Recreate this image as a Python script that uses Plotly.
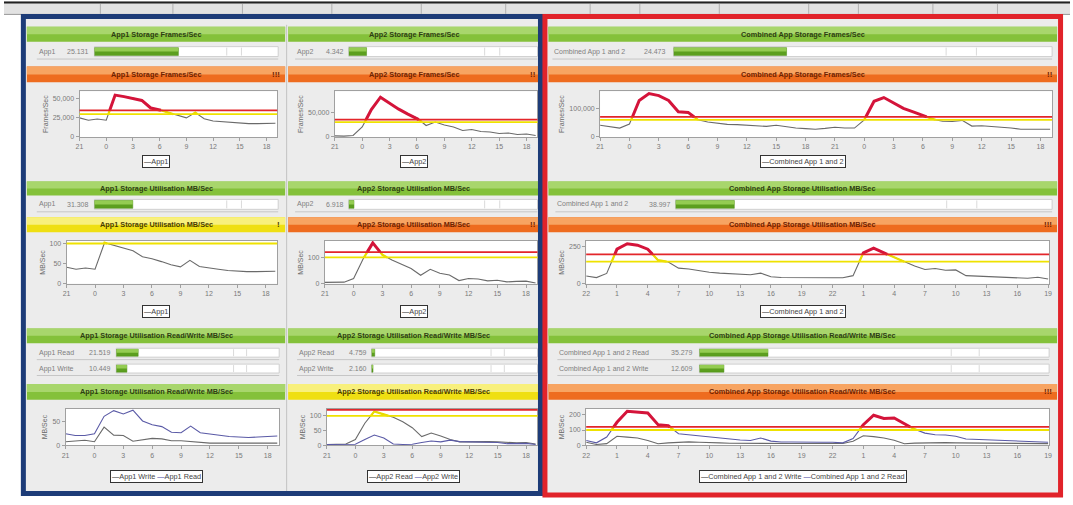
import plotly.graph_objects as go

W, H = 1073, 505
FONT = "Liberation Sans, Arial, sans-serif"

# ---------------- data ----------------
hours_left = list(range(-3, 20))          # 21:00 previous day .. 19:00
hours_comb_frames = list(range(-3, 44))   # two days, starting 21:00
hours_comb_util = list(range(-2, 44))     # two days, starting 22:00

left_tickvals = [-3, 0, 3, 6, 9, 12, 15, 18]
left_ticklabels = ["21", "0", "3", "6", "9", "12", "15", "18"]
comb_frames_tickvals = [-3, 0, 3, 6, 9, 12, 15, 18, 21, 24, 27, 30, 33, 36, 39, 42]
comb_frames_ticklabels = ["21", "0", "3", "6", "9", "12", "15", "18",
                          "21", "0", "3", "6", "9", "12", "15", "18"]
comb_util_tickvals = [-2, 1, 4, 7, 10, 13, 16, 19, 22, 25, 28, 31, 34, 37, 40, 43]
comb_util_ticklabels = ["22", "1", "4", "7", "10", "13", "16", "19",
                        "22", "1", "4", "7", "10", "13", "16", "19"]

app1_frames = [25000, 22000, 23500, 22000, 55000, 53000, 51000, 48000, 38000, 35500, 32000, 28000,
               25000, 32000, 24000, 21000, 20000, 19000, 18000, 17500, 17500, 17500, 18000]
app2_frames = [2000, 1500, 3000, 20000, 55000, 80000, 68000, 56000, 46000, 38000, 23000, 30000,
               24000, 20000, 13000, 15000, 11000, 10000, 7000, 8000, 5000, 6000, 3000]
comb_frames = [41000, 36000, 31000, 45000, 128000, 152000, 145000, 128000, 88000, 86000, 60000, 52000,
               48000, 44000, 43000, 41000, 40000, 37000, 41000, 36000, 31000, 29000, 27000, 30000,
               34000, 31000, 31000, 60000, 125000, 138000, 120000, 100000, 88000, 75000, 62000, 55000,
               54000, 58000, 38000, 39000, 37000, 33000, 31000, 27000, 27000, 27000, 27000]

app1_util = [41, 36, 39, 36, 102, 95, 89, 82, 67, 62, 55, 47, 42, 58, 43, 39, 36, 33, 31, 30, 30, 31, 31]
app2_util = [5, 5, 6, 20, 95, 155, 110, 90, 75, 58, 32, 55, 40, 33, 12, 20, 18, 11, 13, 7, 9, 10, 3]
comb_util = [53, 42, 70, 235, 272, 262, 235, 160, 148, 106, 100, 88, 78, 72, 68, 64, 61, 72, 48, 42,
             41, 43, 44, 42, 41, 41, 55, 210, 242, 210, 180, 150, 120, 97, 104, 92, 94, 55, 52, 50,
             47, 44, 40, 37, 44, 32]

app1_read = [25, 21, 21, 25, 62, 74, 67, 75, 52, 44, 40, 28, 27, 41, 27, 24, 21, 19, 18, 17, 18, 19, 20]
app1_write = [8, 10, 11, 8, 39, 22, 21, 9, 12, 15, 14, 10, 10, 8, 6, 5, 5, 5, 5, 5, 5, 5, 5]
app2_read = [3, 3, 5, 20, 75, 115, 105, 95, 80, 60, 30, 42, 32, 20, 12, 13, 14, 13, 12, 10, 9, 10, 5]
app2_write = [3, 3, 3, 4, 20, 35, 25, 5, 3, 4, 10, 15, 12, 18, 13, 12, 13, 12, 10, 6, 6, 7, 3]
comb_read = [32, 17, 55, 150, 222, 218, 210, 135, 128, 76, 69, 62, 55, 46, 38, 35, 32, 48, 28, 22,
             22, 23, 22, 21, 21, 17, 45, 135, 196, 175, 178, 140, 105, 80, 69, 68, 60, 42, 39, 38,
             35, 32, 28, 23, 22, 21]
comb_write = [21, 6, 12, 60, 54, 48, 32, 11, 17, 22, 23, 21, 21, 17, 14, 13, 13, 13, 12, 12,
              13, 13, 13, 12, 12, 13, 27, 63, 57, 48, 34, 11, 15, 17, 17, 18, 17, 16, 16, 15,
              14, 14, 13, 13, 12, 12]

# thresholds (red, yellow)
frames_thresholds = [35000, 30000]
comb_frames_thresholds = [70000, 60000]
util_thresholds = [120, 100]
comb_util_thresholds = [200, 150]
rw_thresholds = [120, 100]

# current-value gauges
gauge_frames_names = ["App1", "App2", "Combined App 1 and 2"]
gauge_frames_values = [25.131, 4.342, 24.473]
gauge_frames_max = [55, 46, 82]
gauge_util_names = ["App1", "App2", "Combined App 1 and 2"]
gauge_util_values = [31.308, 6.918, 38.997]
gauge_util_max = [150, 250, 250]
gauge_rw_names = [["App1 Read", "App1 Write"], ["App2 Read", "App2 Write"],
                  ["Combined App 1 and 2 Read", "Combined App 1 and 2 Write"]]
gauge_rw_values = [[21.519, 10.449], [4.759, 2.160], [35.279, 12.609]]
gauge_rw_max = [160, 250, 180]

green_titles = [
    ["App1 Storage Frames/Sec", "App2 Storage Frames/Sec", "Combined App Storage Frames/Sec"],
    ["App1 Storage Utilisation MB/Sec", "App2 Storage Utilisation MB/Sec",
     "Combined App Storage Utilisation MB/Sec"],
    ["App1 Storage Utilisation Read/Write MB/Sec", "App2 Storage Utilisation Read/Write MB/Sec",
     "Combined App Storage Utilisation Read/Write MB/Sec"],
]
status_colors = [["orange", "orange", "orange"], ["yellow", "orange", "orange"], ["green", "yellow", "orange"]]
status_icons = [["!!!", "!!", "!!"], ["!", "!!", "!!!"], ["", "", "!!!"]]

# ---------------- geometry (pixels) ----------------
COLS = [(23, 283), (286, 539), (548, 1060)]
GREEN_Y = [(26, 41), (182, 196), (330, 345)]
STATUS_Y = [(66, 82), (218, 233), (386, 402)]
PLOT_Y = [(91, 137), (242, 285), (411, 448)]
LEGEND_Y = [162, 313, 479]
PLOT_X = [[(76, 275), (63, 275), (62, 277)],
          [(333, 537), (323, 537), (325, 537)],
          [(600, 1055), (586, 1052), (586, 1052)]]
GAUGE_Y = [[(46, 56)], [(200, 210)], [(350, 359), (366, 375)]]
GAUGE_TRACK_X = [[(91, 276), (91, 276), (113, 277)],
                 [(347, 537), (347, 537), (370, 537)],
                 [(674, 1055), (676, 1055), (700, 1052)]]
GAUGE_NAME_X = [[33, 33, 33], [293, 293, 295], [552, 555, 557]]
GAUGE_VALUE_X = [[88, 88, 110], [344, 344, 367], [668, 673, 696]]

HEADER_FILL = {"green": ("#84c13a", "#a8d66c", "#2d3d12"),
               "orange": ("#ee6c1f", "#f7a462", "#6e2200"),
               "yellow": ("#efdf12", "#f8f07c", "#4a3c00")}

BASE_COL = "#6a6a6a"
BLUE_COL = "#5a5aa6"
RED_COL = "#e3262b"
YEL_COL = "#efe200"


def fx(px):
    return px / W


def fy(py):
    return 1 - py / H


shapes = []
annotations = []
layout_axes = {}
axis_count = [0]


def rect(x0, y0, x1, y1, fill, line_color=None, lw=0, layer="below"):
    shapes.append(dict(type="rect", xref="paper", yref="paper",
                       x0=fx(x0), x1=fx(x1), y0=fy(y1), y1=fy(y0),
                       fillcolor=fill, layer=layer,
                       line=dict(color=line_color or fill, width=lw)))


def hline(x0, x1, y, color, w=1, layer="below"):
    shapes.append(dict(type="line", xref="paper", yref="paper", x0=fx(x0), x1=fx(x1),
                       y0=fy(y), y1=fy(y), line=dict(color=color, width=w), layer=layer))


def vline(x, y0, y1, color, w=1, layer="below"):
    shapes.append(dict(type="line", xref="paper", yref="paper", x0=fx(x), x1=fx(x),
                       y0=fy(y0), y1=fy(y1), line=dict(color=color, width=w), layer=layer))


def text(x, y, s, size=7, color="#555", xanchor="center", bold=False, **kw):
    annotations.append(dict(x=fx(x), y=fy(y), xref="paper", yref="paper", showarrow=False,
                            text=("<b>%s</b>" % s) if bold else s, xanchor=xanchor, yanchor="middle",
                            font=dict(size=size, color=color, family=FONT), **kw))


def new_axes(x0, x1, y0, y1, xopts, yopts):
    axis_count[0] += 1
    n = axis_count[0]
    sfx = "" if n == 1 else str(n)
    layout_axes["xaxis" + sfx] = dict(domain=[fx(x0), fx(x1)], anchor="y" + sfx, **xopts)
    layout_axes["yaxis" + sfx] = dict(domain=[fy(y1), fy(y0)], anchor="x" + sfx, **yopts)
    return "x" + sfx, "y" + sfx


def band_pieces(xs, ys, lo, hi):
    out_x, out_y = [], []
    last = None
    for i in range(len(xs) - 1):
        x0, y0, x1, y1 = xs[i], ys[i], xs[i + 1], ys[i + 1]
        if y1 == y0:
            if lo <= y0 <= hi:
                ta, tb = 0.0, 1.0
            else:
                continue
        else:
            t1 = (lo - y0) / (y1 - y0)
            t2 = (hi - y0) / (y1 - y0)
            ta, tb = max(0.0, min(t1, t2)), min(1.0, max(t1, t2))
            if tb <= ta:
                continue
        pa = (x0 + ta * (x1 - x0), y0 + ta * (y1 - y0))
        pb = (x0 + tb * (x1 - x0), y0 + tb * (y1 - y0))
        if last is not None and abs(last[0] - pa[0]) < 1e-9 and abs(last[1] - pa[1]) < 1e-9:
            out_x.append(pb[0])
            out_y.append(pb[1])
        else:
            if out_x:
                out_x.append(None)
                out_y.append(None)
            out_x += [pa[0], pb[0]]
            out_y += [pa[1], pb[1]]
        last = pb
    return out_x, out_y


# ---------------- chart specs [row][col] ----------------
left_x = dict(x=hours_left, xrange=[-3, 19.2], tv=left_tickvals, tt=left_ticklabels)
cf_x = dict(x=hours_comb_frames, xrange=[-3, 43.2], tv=comb_frames_tickvals, tt=comb_frames_ticklabels)
cu_x = dict(x=hours_comb_util, xrange=[-2, 43.1], tv=comb_util_tickvals, tt=comb_util_ticklabels)

charts = [
    [
        dict(xs=left_x, series=[("App1", app1_frames, BASE_COL, "#222")], yrange=[0, 60000],
             yticks=[0, 25000, 50000], ytitle="Frames/Sec", thr=frames_thresholds),
        dict(xs=left_x, series=[("App2", app2_frames, BASE_COL, "#222")], yrange=[0, 92000],
             yticks=[0, 50000], ytitle="Frames/Sec", thr=frames_thresholds),
        dict(xs=cf_x, series=[("Combined App 1 and 2", comb_frames, BASE_COL, "#222")], yrange=[0, 160000],
             yticks=[0, 100000], ytitle="Frames/Sec", thr=comb_frames_thresholds),
    ],
    [
        dict(xs=left_x, series=[("App1", app1_util, BASE_COL, "#222")], yrange=[0, 106],
             yticks=[0, 50, 100], ytitle="MB/Sec", thr=util_thresholds),
        dict(xs=left_x, series=[("App2", app2_util, BASE_COL, "#222")], yrange=[0, 162],
             yticks=[0, 100], ytitle="MB/Sec", thr=util_thresholds),
        dict(xs=cu_x, series=[("Combined App 1 and 2", comb_util, BASE_COL, "#222")], yrange=[0, 290],
             yticks=[0, 250], ytitle="MB/Sec", thr=comb_util_thresholds),
    ],
    [
        dict(xs=left_x, series=[("App1 Write", app1_write, BASE_COL, "#222"),
                                ("App1 Read", app1_read, BLUE_COL, "#3a3aa0")], yrange=[0, 78],
             yticks=[0, 50], ytitle="MB/Sec", thr=rw_thresholds),
        dict(xs=left_x, series=[("App2 Read", app2_read, BASE_COL, "#222"),
                                ("App2 Write", app2_write, BLUE_COL, "#3a3aa0")], yrange=[0, 124],
             yticks=[0, 50, 100], ytitle="MB/Sec", thr=rw_thresholds),
        dict(xs=cu_x, series=[("Combined App 1 and 2 Write", comb_write, BASE_COL, "#222"),
                              ("Combined App 1 and 2 Read", comb_read, BLUE_COL, "#3a3aa0")],
             yrange=[0, 238], yticks=[0, 100, 200], ytitle="MB/Sec", thr=rw_thresholds),
    ],
]

gauges = [
    [[(gauge_frames_names[c], gauge_frames_values[c])] for c in range(3)],
    [[(gauge_util_names[c], gauge_util_values[c])] for c in range(3)],
    [list(zip(gauge_rw_names[c], gauge_rw_values[c])) for c in range(3)],
]
gauge_max = [gauge_frames_max, gauge_util_max, gauge_rw_max]

fig = go.Figure()

# ---------------- background / frames ----------------
rect(0, 0, W, 14, "#e2e2e2")
hline(0, W, 1.5, "#222", 2)
hline(0, W, 13.5, "#9a9a9a", 1)
for sx in [97, 170, 240, 330, 420, 505, 590, 640, 720, 810, 860, 935, 1000]:
    vline(sx, 3, 13, "#b0b0b0", 1)
rect(19, 16, 540, 497, "#ececec")
rect(545, 16, 1063, 498, "#ececec")
vline(284.5, 24, 494, "#c2c2c2", 1)

for r in range(3):
    for c in range(3):
        cx0, cx1 = COLS[c]
        cmid = (cx0 + cx1) / 2
        # green summary header
        gy0, gy1 = GREEN_Y[r]
        base, light, tcol = HEADER_FILL["green"]
        rect(cx0, gy0, cx1, gy1, base)
        rect(cx0, gy0, cx1, (gy0 + gy1) / 2, light)
        text(cmid, (gy0 + gy1) / 2, green_titles[r][c], 7.3, tcol, bold=True)
        # status header
        sy0, sy1 = STATUS_Y[r]
        base, light, tcol = HEADER_FILL[status_colors[r][c]]
        rect(cx0, sy0, cx1, sy1, base)
        rect(cx0, sy0, cx1, (sy0 + sy1) / 2, light)
        text(cmid, (sy0 + sy1) / 2, green_titles[r][c], 7.3, tcol, bold=True)
        if status_icons[r][c]:
            text(cx1 - 3, (sy0 + sy1) / 2, status_icons[r][c], 8, tcol, xanchor="right", bold=True)

        # ---- gauges ----
        tx0, tx1 = GAUGE_TRACK_X[c][r]
        for gi, (gname, gval) in enumerate(gauges[r][c]):
            gy0_, gy1_ = GAUGE_Y[r][gi]
            rect(tx0, gy0_, tx1, gy1_, "white", "#cfcfcf", 1)
            for frac in (0.72, 0.80):
                vline(tx0 + frac * (tx1 - tx0), gy0_ + 1, gy1_ - 1, "#dadada", 1)
            hline(GAUGE_NAME_X[c][r], tx1, gy1_ + 2.5, "#c6c6c6", 1)
            xa, ya = new_axes(tx0, tx1, gy0_, gy1_,
                              dict(range=[0, gauge_max[r][c]], visible=False, fixedrange=True),
                              dict(range=[-0.5, 0.5], visible=False, fixedrange=True))
            fig.add_trace(go.Bar(x=[gval], y=[0], orientation="h", width=0.8, xaxis=xa, yaxis=ya,
                                 marker=dict(color="#5c9f1f", line=dict(color="#4a8a16", width=0.5)),
                                 showlegend=False, hoverinfo="skip"))
            fig.add_trace(go.Bar(x=[gval], y=[0.2], orientation="h", width=0.4, xaxis=xa, yaxis=ya,
                                 marker=dict(color="#94cc52", line=dict(width=0)),
                                 showlegend=False, hoverinfo="skip"))
            text(GAUGE_NAME_X[c][r], (gy0_ + gy1_) / 2, gname, 7, "#808080", xanchor="left")
            text(GAUGE_VALUE_X[c][r], (gy0_ + gy1_) / 2, "%.3f" % gval, 7, "#808080", xanchor="right")

        # ---- line chart ----
        spec = charts[r][c]
        px0, px1 = PLOT_X[c][r]
        py0, py1 = PLOT_Y[r]
        rect(px0, py0, px1, py1, "white")
        xs = spec["xs"]
        common = dict(showline=True, linecolor="#a0a0a0", mirror=True, ticks="outside", ticklen=3,
                      tickcolor="#a0a0a0", showgrid=False, zeroline=False, fixedrange=True,
                      tickfont=dict(size=7, color="#7a7a7a", family=FONT))
        xa, ya = new_axes(px0, px1, py0, py1,
                          dict(range=xs["xrange"], tickvals=xs["tv"], ticktext=xs["tt"], **common),
                          dict(range=spec["yrange"], tickvals=spec["yticks"],
                               ticktext=["{:,}".format(v) for v in spec["yticks"]],
                               title=dict(text=spec["ytitle"], standoff=3,
                                          font=dict(size=7, color="#6a6a6a", family=FONT)),
                               **common))
        red_t, yel_t = spec["thr"]
        ymax = spec["yrange"][1]
        for tval, tcol in ((yel_t, YEL_COL), (red_t, RED_COL)):
            if tval < ymax:
                shapes.append(dict(type="line", xref=xa + " domain", yref=ya, x0=0, x1=1,
                                   y0=tval, y1=tval, line=dict(color=tcol, width=1.8), layer="above"))
        legend_parts = []
        for k, (sname, vals, lcol, legcol) in enumerate(spec["series"]):
            fig.add_trace(go.Scatter(x=xs["x"], y=vals, mode="lines", name=sname, xaxis=xa, yaxis=ya,
                                     line=dict(color=lcol, width=1.1), showlegend=False,
                                     hoverinfo="skip"))
            legend_parts.append('<span style="color:%s">\u2014</span><span style="color:#444">%s</span>'
                                % (legcol, sname))
        for k, (sname, vals, lcol, legcol) in enumerate(spec["series"]):
            yx, yy = band_pieces(xs["x"], vals, yel_t, red_t)
            if yx:
                fig.add_trace(go.Scatter(x=yx, y=yy, mode="lines", xaxis=xa, yaxis=ya, showlegend=False,
                                         line=dict(color="#e8dc00", width=2.2), hoverinfo="skip"))
            rx, ry = band_pieces(xs["x"], vals, red_t, float("inf"))
            if rx:
                fig.add_trace(go.Scatter(x=rx, y=ry, mode="lines", xaxis=xa, yaxis=ya, showlegend=False,
                                         line=dict(color="#d4143a", width=3), hoverinfo="skip"))
        # legend box
        text(cmid, LEGEND_Y[r], " ".join(legend_parts), 7.3, "#444",
             bgcolor="white", bordercolor="#333", borderwidth=1, borderpad=1)

# frames on top
shapes.append(dict(type="rect", xref="paper", yref="paper", x0=fx(19.5), x1=fx(540), y0=fy(496.5),
                   y1=fy(15.5), line=dict(color="#1d3c78", width=5), fillcolor="rgba(0,0,0,0)",
                   layer="above"))
shapes.append(dict(type="rect", xref="paper", yref="paper", x0=fx(544.5), x1=fx(1063.5), y0=fy(498),
                   y1=fy(15.5), line=dict(color="#e1232a", width=5), fillcolor="rgba(0,0,0,0)",
                   layer="above"))

fig.update_layout(width=W, height=H, autosize=False, margin=dict(l=0, r=0, t=0, b=0),
                  paper_bgcolor="white", plot_bgcolor="rgba(0,0,0,0)", barmode="overlay",
                  font=dict(family=FONT, size=7), shapes=shapes, annotations=annotations,
                  hovermode=False, showlegend=False, **layout_axes)

fig.write_html("out.html", config={"displayModeBar": False, "staticPlot": True},
               post_script="document.body.style.margin='0';document.body.style.overflow='hidden';")
